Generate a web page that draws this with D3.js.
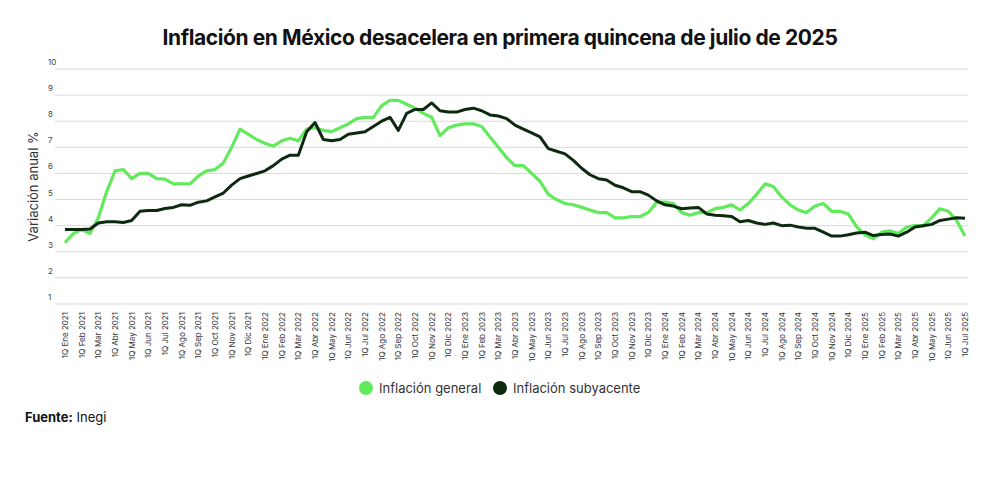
<!DOCTYPE html>
<html>
<head>
<meta charset="utf-8">
<script src="https://cdn.jsdelivr.net/npm/d3@7"></script>
<style>
  body { margin: 0; background: #fff; font-family: Inter, "Noto Sans", sans-serif; }
</style>
</head>
<body>
<div id="chart"></div>
<script>
var months = ["Ene", "Feb", "Mar", "Abr", "May", "Jun", "Jul", "Ago", "Sep", "Oct", "Nov", "Dic"];
var years = [2021, 2022, 2023, 2024, 2025];

// biweekly values (1Q and 2Q of each month), 1Q Ene 2021 .. 1Q Jul 2025
var general2021 = [3.35, 3.7, 3.85, 3.7, 4.3, 5.3, 6.1, 6.15, 5.8, 6.0, 6.0, 5.8, 5.78, 5.6, 5.6, 5.6, 5.9, 6.1, 6.15, 6.4, 7.0, 7.7, 7.5, 7.3];
var general2022 = [7.15, 7.05, 7.25, 7.35, 7.25, 7.7, 7.75, 7.65, 7.6, 7.75, 7.9, 8.1, 8.15, 8.15, 8.6, 8.8, 8.8, 8.65, 8.5, 8.3, 8.15, 7.45, 7.75, 7.85];
var general2023 = [7.9, 7.9, 7.8, 7.4, 7.0, 6.6, 6.3, 6.3, 6.0, 5.7, 5.2, 5.0, 4.85, 4.8, 4.7, 4.6, 4.5, 4.5, 4.3, 4.3, 4.35, 4.35, 4.5, 4.9];
var general2024 = [4.9, 4.85, 4.5, 4.4, 4.5, 4.5, 4.65, 4.7, 4.8, 4.6, 4.85, 5.2, 5.6, 5.5, 5.1, 4.8, 4.6, 4.5, 4.75, 4.85, 4.55, 4.55, 4.45, 3.95];
var general2025 = [3.65, 3.5, 3.75, 3.8, 3.7, 3.95, 4.0, 4.0, 4.3, 4.65, 4.55, 4.2, 3.6];

var core2021 = [3.85, 3.85, 3.85, 3.87, 4.1, 4.15, 4.15, 4.12, 4.2, 4.55, 4.58, 4.58, 4.66, 4.7, 4.8, 4.78, 4.9, 4.95, 5.1, 5.25, 5.55, 5.8, 5.9, 6.0];
var core2022 = [6.1, 6.3, 6.55, 6.7, 6.7, 7.6, 7.95, 7.3, 7.25, 7.3, 7.5, 7.55, 7.6, 7.8, 8.0, 8.15, 7.65, 8.3, 8.45, 8.45, 8.7, 8.4, 8.35, 8.35];
var core2023 = [8.45, 8.5, 8.4, 8.24, 8.2, 8.1, 7.85, 7.7, 7.55, 7.4, 6.95, 6.85, 6.75, 6.5, 6.2, 5.95, 5.8, 5.75, 5.55, 5.45, 5.3, 5.3, 5.17, 4.95];
var core2024 = [4.8, 4.75, 4.65, 4.68, 4.7, 4.45, 4.4, 4.38, 4.35, 4.15, 4.2, 4.1, 4.05, 4.1, 4.0, 4.02, 3.95, 3.9, 3.9, 3.75, 3.6, 3.6, 3.65, 3.72];
var core2025 = [3.75, 3.62, 3.66, 3.68, 3.6, 3.75, 3.95, 4.0, 4.05, 4.2, 4.25, 4.3, 4.28];

var yTicks = [1, 2, 3, 4, 5, 6, 7, 8, 9, 10];

var general = [].concat(general2021, general2022, general2023, general2024, general2025);
var core = [].concat(core2021, core2022, core2023, core2024, core2025);

// period labels, one per quincena
var periods = [];
years.forEach(function(y) {
  months.forEach(function(m) {
    periods.push("1Q " + m + " " + y);
    periods.push("2Q " + m + " " + y);
  });
});
periods = periods.slice(0, general.length);
var tickLabels = periods.filter(function(p) { return p.indexOf("1Q") === 0; });

var svgWidth = 1000, svgHeight = 480;
var margin = { top: 69, right: 35, bottom: 176, left: 65 };

var svg = d3.select("#chart").append("svg")
  .attr("width", svgWidth)
  .attr("height", svgHeight);

var x = d3.scalePoint().domain(periods).range([margin.left, svgWidth - margin.right]);
var y = d3.scaleLinear().domain([1, 10]).range([svgHeight - margin.bottom + 0, margin.top]);
// y(1) = 304

svg.append("text")
  .attr("x", 500).attr("y", 45)
  .attr("text-anchor", "middle")
  .style("font-size", "21px").style("font-weight", 700)
  .style("letter-spacing", "-0.4px")
  .attr("fill", "#111")
  .text("Inflación en México desacelera en primera quincena de julio de 2025");

// grid
svg.append("g").selectAll("line").data(yTicks).enter().append("line")
  .attr("x1", 55).attr("x2", 968)
  .attr("y1", d => y(d)).attr("y2", d => y(d))
  .attr("stroke", "#d9d9d9").attr("stroke-width", 1);

svg.append("g").selectAll("text").data(yTicks).enter().append("text")
  .attr("x", 48).attr("y", d => y(d) - 4)
  .style("font-size", "8px").attr("fill", "#444")
  .text(d => d);

svg.append("text")
  .attr("transform", "translate(38," + y(5.5) + ") rotate(-90)")
  .attr("text-anchor", "middle")
  .style("font-size", "13px").attr("fill", "#333")
  .text("Variación anual %");

// x labels
svg.append("g").selectAll("text").data(tickLabels).enter().append("text")
  .attr("transform", d => "translate(" + (x(d) + 3) + "," + (y(1) + 8) + ") rotate(-90)")
  .attr("text-anchor", "end")
  .style("font-size", "8px").attr("fill", "#333")
  .text(d => d);

var line = d3.line()
  .x(function(d, i) { return x(periods[i]); })
  .y(function(d) { return y(d); });

svg.append("path").datum(general)
  .attr("d", line).attr("fill", "none")
  .attr("stroke", "#62ea5c").attr("stroke-width", 3.2)
  .attr("stroke-linejoin", "round");

svg.append("path").datum(core)
  .attr("d", line).attr("fill", "none")
  .attr("stroke", "#0d2a0f").attr("stroke-width", 3)
  .attr("stroke-linejoin", "round");

// legend
var legend = [
  { name: "Inflación general", color: "#62ea5c", x: 366 },
  { name: "Inflación subyacente", color: "#0d2a0f", x: 500 }
];
var lg = svg.append("g").selectAll("g").data(legend).enter().append("g")
  .attr("transform", d => "translate(" + d.x + ",388)");
lg.append("circle").attr("r", 7).attr("fill", d => d.color);
lg.append("text").attr("x", 13).attr("y", 5)
  .style("font-size", "13px").attr("fill", "#333")
  .text(d => d.name);

var src = svg.append("text").attr("x", 25).attr("y", 422)
  .style("font-size", "13px").attr("fill", "#111");
src.append("tspan").style("font-weight", 700).text("Fuente:");
src.append("tspan").text(" Inegi");
</script>
</body>
</html>
